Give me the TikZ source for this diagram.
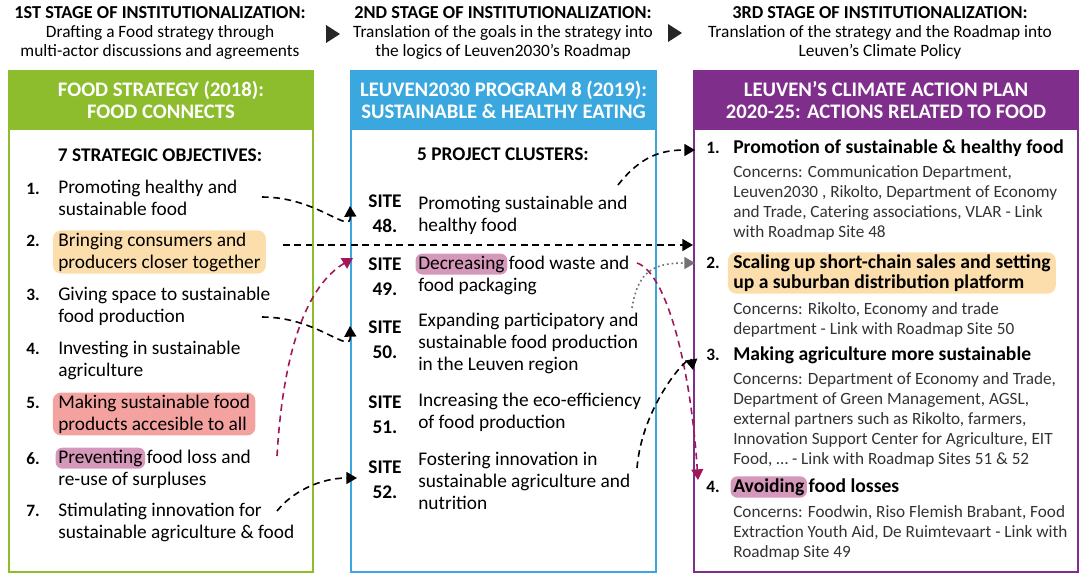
\documentclass[tikz,border=0pt]{standalone}
\usepackage{fontspec}
\setmainfont{Carlito}
\usetikzlibrary{arrows.meta, positioning, calc}

\definecolor{strategygreen}{RGB}{141,188,44}
\definecolor{roadmapblue}{RGB}{58,168,222}
\definecolor{climatepurple}{RGB}{128,46,140}
\definecolor{hlorange}{RGB}{252,222,172}
\definecolor{hlred}{RGB}{243,162,160}
\definecolor{hlmauve}{RGB}{214,152,186}
\definecolor{linkred}{RGB}{160,24,92}

\newcommand{\fsize}[2]{\fontsize{#1}{#2}\selectfont}
% highlight one word inside a line of text
\newcommand{\hlword}[2]{\hspace{-2pt}\tikz[baseline=(hw.base)]\node[fill=#1, rounded corners=5pt, inner xsep=2pt, inner ysep=1.6pt] (hw) {#2};\hspace{-2pt}}

\tikzset{
    stagediagram/.style={x=0.75pt, y=-0.75pt, >={Triangle[length=8pt, width=9pt]}},
    stagehead/.style={align=center, inner sep=0pt, font=\fsize{13}{14.5}},
    panel/.style={draw=#1, line width=1.5pt, anchor=north west, minimum height=375.75pt, inner sep=0pt},
    panelhead/.style={draw=#1, fill=#1, line width=1.5pt, text=white, align=center, anchor=north west,
        minimum height=43.5pt, inner sep=0pt, font=\bfseries\fsize{15.5}{16.5}},
    listhead/.style={inner sep=0pt, font=\bfseries\fsize{14.5}{15}},
    objective/.style={anchor=west, align=left, inner sep=0pt, font=\fsize{14.5}{16.5}},
    objnum/.style={anchor=north east, inner sep=0pt, font=\bfseries\fsize{13}{16}},
    hlbox/.style={fill=#1, rounded corners=6pt, inner xsep=4pt, inner ysep=1.6pt},
    sitelabel/.style={align=center, inner sep=0pt, font=\bfseries\fsize{14.5}{18.75}},
    action/.style={anchor=west, align=left, inner sep=0pt, font=\bfseries\fsize{14.7}{15}},
    concerns/.style={anchor=west, align=left, inner sep=0pt, text=black!80, font=\fsize{12.9}{15}},
    link/.style={->, line width=1.2pt, dash pattern=on 5pt off 3.5pt},
    foodlink/.style={link, draw=linkred},
    distlink/.style={->, line width=1.2pt, draw=black!55, dash pattern=on 1.3pt off 2.2pt},
}

\begin{document}
\begin{tikzpicture}[stagediagram]
    \useasboundingbox (0,0) rectangle (1084,582);

    % stage titles
    \node[stagehead] (stage1) at (160,33) {{\bfseries\fsize{13.7}{14.5}1ST STAGE OF INSTITUTIONALIZATION:}\\Drafting a Food strategy through\\multi-actor discussions and agreements};
    \node[stagehead] (stage2) at (503,33) {{\bfseries\fsize{13.7}{14.5}2ND STAGE OF INSTITUTIONALIZATION:}\\Translation of the goals in the strategy into\\the logics of Leuven2030’s Roadmap};
    \node[stagehead] (stage3) at (880,33) {{\bfseries\fsize{13.7}{14.5}3RD STAGE OF INSTITUTIONALIZATION:}\\Translation of the strategy and the Roadmap into\\Leuven’s Climate Policy};
    \fill[black!85] (326,25) -- (340,34) -- (326,43) -- cycle;
    \fill[black!85] (668,24) -- (682,33) -- (668,42) -- cycle;

    % panels
    \node[panel=strategygreen, minimum width=228pt] (strategy) at (8,70) {};
    \node[panel=roadmapblue, minimum width=228.75pt] (roadmap) at (350,70) {};
    \node[panel=climatepurple, minimum width=288pt] (climate) at (693,70) {};
    \node[panelhead=strategygreen, minimum width=228pt] (strategyhead) at (strategy.north west) {FOOD STRATEGY (2018):\\FOOD CONNECTS};
    \node[panelhead=roadmapblue, minimum width=228.75pt] (roadmaphead) at (roadmap.north west) {LEUVEN2030 PROGRAM 8 (2019):\\SUSTAINABLE \& HEALTHY EATING};
    \node[panelhead=climatepurple, minimum width=288pt] (climatehead) at (climate.north west) {LEUVEN’S CLIMATE ACTION PLAN\\2020-25: ACTIONS RELATED TO FOOD};

    % food strategy
    \node[listhead] (objectives) at (160,155) {7 STRATEGIC OBJECTIVES:};
    \node[objective] (o1) at (58,198) {Promoting healthy and\\sustainable food};
    \node[objective, hlbox=hlorange] (o2) at (52.7,252) {Bringing consumers and\\producers closer together};
    \node[objective] (o3) at (58,306) {Giving space to sustainable\\food production};
    \node[objective] (o4) at (58,360) {Investing in sustainable\\agriculture};
    \node[objective, hlbox=hlred] (o5) at (52.7,414) {Making sustainable food\\products accesible to all};
    \node[objective] (o6) at (58,468) {\hlword{hlmauve}{Preventing} food loss and\\re-use of surpluses};
    \node[objective] (o7) at (58,522) {Stimulating innovation for\\sustainable agriculture \& food};
    \node[objnum] (n1) at ([xshift=-13.5pt, yshift=-2pt]o1.north west) {1.};
    \node[objnum] (n2) at ([xshift=-9.5pt, yshift=-3.6pt]o2.north west) {2.};
    \node[objnum] (n3) at ([xshift=-13.5pt, yshift=-2pt]o3.north west) {3.};
    \node[objnum] (n4) at ([xshift=-13.5pt, yshift=-2pt]o4.north west) {4.};
    \node[objnum] (n5) at ([xshift=-9.5pt, yshift=-3.6pt]o5.north west) {5.};
    \node[objnum] (n6) at ([xshift=-13.5pt, yshift=-3.6pt]o6.north west) {6.};
    \node[objnum] (n7) at ([xshift=-13.5pt, yshift=-2pt]o7.north west) {7.};

    % roadmap program
    \node[listhead] (clusters) at (503,154) {5 PROJECT CLUSTERS:};
    \node[sitelabel] (l48) at (385,214) {SITE\\48.};
    \node[sitelabel] (l49) at (385,277) {SITE\\49.};
    \node[sitelabel] (l50) at (385,340) {SITE\\50.};
    \node[sitelabel] (l51) at (385,415) {SITE\\51.};
    \node[sitelabel] (l52) at (385,480) {SITE\\52.};
    \node[objective] (p48) at (418,215) {Promoting sustainable and\\healthy food};
    \node[objective] (p49) at (418,274) {\hlword{hlmauve}{Decreasing} food waste and\\food packaging};
    \node[objective] (p50) at (418,343) {Expanding participatory and\\sustainable food production\\in the Leuven region};
    \node[objective] (p51) at (418,412) {Increasing the eco-efficiency\\of food production};
    \node[objective] (p52) at (418,481) {Fostering innovation in\\sustainable agriculture and\\nutrition};

    % climate action plan
    \node[action] (a1) at (733,148) {Promotion of sustainable \& healthy food};
    \node[concerns] (c1) at (733,203) {Concerns: Communication Department,\\Leuven2030 , Rikolto, Department of Economy\\and Trade, Catering associations, VLAR - Link\\with Roadmap Site 48};
    \node[action, hlbox=hlorange] (a2) at (727.7,273) {Scaling up short-chain sales and setting\\up a suburban distribution platform};
    \node[concerns] (c2) at (733,320) {Concerns: Rikolto, Economy and trade\\department - Link with Roadmap Site 50};
    \node[action] (a3) at (733,355) {Making agriculture more sustainable};
    \node[concerns] (c3) at (733,420) {Concerns: Department of Economy and Trade,\\Department of Green Management, AGSL,\\external partners such as Rikolto, farmers,\\Innovation Support Center for Agriculture, EIT\\Food, … - Link with Roadmap Sites 51 \& 52};
    \node[action] (a4) at (733,487) {\hlword{hlmauve}{Avoiding} food losses};
    \node[concerns] (c4) at (733,533) {Concerns: Foodwin, Riso Flemish Brabant, Food\\Extraction Youth Aid, De Ruimtevaart - Link with\\Roadmap Site 49};
    \node[objnum] (m1) at ([xshift=-9.75pt, yshift=-2pt]a1.north west) {1.};
    \node[objnum] (m2) at ([xshift=-5.8pt, yshift=-3.6pt]a2.north west) {2.};
    \node[objnum] (m3) at ([xshift=-9.75pt, yshift=-2pt]a3.north west) {3.};
    \node[objnum] (m4) at ([xshift=-9.75pt, yshift=-3.6pt]a4.north west) {4.};

    % link ends
    \coordinate (f1) at (262,197);
    \coordinate (t1) at (350,206);
    \coordinate (f2) at (283,245);
    \coordinate (t2) at (693,245);
    \coordinate (f3) at (262,317);
    \coordinate (t3) at (350,326);
    \coordinate (f7) at (277,511);
    \coordinate (t7) at (357,478);
    \coordinate (f6) at (277,456);
    \coordinate (t6) at (353,258);
    \coordinate (f48) at (618,185);
    \coordinate (t48) at (695,150);
    \coordinate (f49) at (637,263);
    \coordinate (t49) at (698,480);
    \coordinate (f50) at (632,308);
    \coordinate (t50) at (695,263);
    \coordinate (f52) at (637,468);
    \coordinate (t52) at (693,370);

    \draw[link] (f1) .. controls (318,197) and (351,236) .. (t1);
    \draw[link] (f2) -- (t2);
    \draw[link] (f3) .. controls (318,317) and (351,356) .. (t3);
    \draw[link] (f7) .. controls (292,492) and (320,478) .. (t7);
    \draw[foodlink] (f6) .. controls (282,370) and (300,290) .. (t6);
    \draw[link] (f48) .. controls (640,157) and (660,150) .. (t48);
    \draw[foodlink] (f49) .. controls (665,272) and (690,360) .. (t49);
    \draw[distlink] (f50) .. controls (638,270) and (655,263) .. (t50);
    \draw[link] (f52) .. controls (642,405) and (690,352) .. (t52);
\end{tikzpicture}
\end{document}
